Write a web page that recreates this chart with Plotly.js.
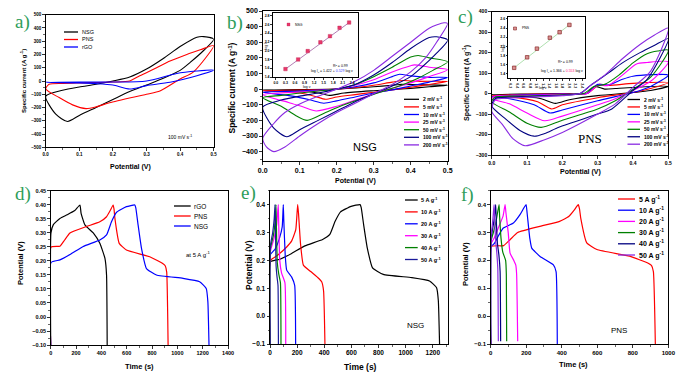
<!DOCTYPE html>
<html><head><meta charset="utf-8">
<script src="https://cdn.plot.ly/plotly-3.0.1.min.js"></script>
<style>html,body{margin:0;padding:0;background:#fff}#plot{width:683px;height:381px}</style>
</head><body><div id="plot"></div>
<script>
// ---------- DATA ----------
// NSG CV loops (potential V, current A/g), panel b
const nsg2V = [0,0.1,0.2,0.3,0.35,0.37,0.42,0.5, 0.45,0.4,0.3,0.22,0.18,0.15,0.1,0];
const nsg2I = [-5,-3,0,15,25,30,28,25, 15,5,-10,-25,-40,-25,-12,-5];
const nsg5V = [0,0.1,0.2,0.25,0.3,0.35,0.38,0.42,0.5, 0.45,0.4,0.35,0.3,0.25,0.2,0.17,0.14,0.1,0];
const nsg5I = [-10,-6,0,10,25,45,55,50,50, 30,12,-5,-20,-35,-50,-65,-45,-25,-10];
const nsg10V = [0,0.1,0.2,0.25,0.3,0.35,0.37,0.4,0.45,0.5, 0.45,0.4,0.35,0.3,0.25,0.2,0.165,0.13,0.08,0];
const nsg10I = [-20,-12,0,15,40,80,95,85,75,75, 45,20,-5,-25,-50,-75,-90,-70,-45,-20];
const nsg25V = [0,0.05,0.1,0.15,0.2,0.25,0.3,0.35,0.4,0.41,0.45,0.5, 0.45,0.4,0.35,0.3,0.25,0.2,0.145,0.11,0.07,0.03,0];
const nsg25I = [-35,-25,-18,-10,0,25,60,110,150,155,140,125, 80,40,5,-30,-70,-110,-140,-115,-85,-60,-35];
const nsg50V = [0,0.05,0.1,0.15,0.2,0.25,0.3,0.35,0.4,0.42,0.45,0.5, 0.46,0.42,0.38,0.33,0.28,0.22,0.17,0.12,0.09,0.05,0];
const nsg50I = [-55,-40,-25,-12,0,30,80,140,205,215,200,175, 120,70,30,-10,-50,-100,-150,-200,-170,-110,-55];
const nsg100V = [0,0.05,0.1,0.15,0.2,0.25,0.3,0.35,0.4,0.45,0.47,0.5, 0.47,0.43,0.4,0.35,0.3,0.25,0.2,0.15,0.1,0.065,0.03,0];
const nsg100I = [-115,-70,-45,-25,0,30,90,170,260,330,335,315, 230,140,80,20,-30,-80,-140,-200,-260,-305,-250,-115];
const nsg200V = [0,0.03,0.06,0.1,0.15,0.2,0.25,0.3,0.35,0.4,0.45,0.49,0.5, 0.47,0.44,0.4,0.35,0.3,0.25,0.2,0.15,0.1,0.06,0.03,0.01,0];
const nsg200I = [-315,-220,-150,-95,-45,0,50,120,210,300,390,425,420, 300,200,110,30,-30,-90,-150,-220,-300,-370,-400,-370,-315];

// PNS CV loops, panel c
const pns2V = [0,0.1,0.2,0.27,0.29,0.32,0.35,0.4,0.5, 0.45,0.4,0.3,0.22,0.18,0.14,0.05,0];
const pns2I = [-5,-2,0,2,35,22,25,30,36, 15,5,-10,-30,-48,-25,-8,-5];
const pns5V = [0,0.1,0.2,0.27,0.305,0.33,0.4,0.5, 0.45,0.4,0.3,0.2,0.17,0.13,0.05,0];
const pns5I = [-10,-4,-1,0,45,40,50,54, 25,5,-20,-55,-75,-40,-15,-10];
const pns10V = [0,0.1,0.2,0.27,0.3,0.33,0.37,0.4,0.5, 0.45,0.4,0.35,0.3,0.2,0.165,0.12,0.05,0];
const pns10I = [-15,-6,-2,0,45,42,70,85,90, 35,5,-15,-35,-80,-95,-55,-25,-15];
const pns25V = [0,0.01,0.1,0.2,0.27,0.3,0.33,0.37,0.41,0.44,0.5, 0.45,0.4,0.35,0.3,0.2,0.15,0.1,0.05,0];
const pns25I = [-25,-12,-8,-4,0,40,40,90,145,152,155, 60,15,-25,-55,-110,-133,-95,-50,-25];
const pns50V = [0,0.01,0.1,0.2,0.26,0.29,0.32,0.36,0.4,0.44,0.47,0.5, 0.45,0.4,0.35,0.3,0.2,0.14,0.1,0.05,0];
const pns50I = [-40,-18,-12,-6,0,35,45,90,150,195,208,212, 80,20,-35,-75,-130,-165,-145,-90,-40];
const pns100V = [0,0.01,0.05,0.1,0.2,0.25,0.28,0.33,0.37,0.42,0.46,0.5, 0.44,0.4,0.34,0.3,0.19,0.15,0.12,0.08,0.04,0];
const pns100I = [-60,-25,-18,-14,-8,0,40,100,150,200,235,268, 69,15,-75,-100,-164,-195,-208,-180,-125,-60];
const pns200V = [0,0.01,0.05,0.1,0.2,0.25,0.28,0.32,0.37,0.42,0.46,0.5, 0.45,0.4,0.35,0.3,0.2,0.15,0.095,0.06,0.03,0];
const pns200I = [-87,-30,-22,-18,-10,0,40,90,170,240,285,320, 110,30,-50,-100,-190,-225,-255,-220,-150,-87];

// rGO CV loop at 100 mV/s, panel a
const rgoCvV = [0,0.1,0.2,0.3,0.39,0.45,0.5, 0.45,0.37,0.3,0.25,0.2,0.15,0.1,0];
const rgoCvI = [-10,-8,-8,0,57,75,82, 40,-10,-35,-60,-30,-20,-15,-10];

// Insets: log v vs log Ip
const nsgLogV = [0.301,0.699,1.0,1.398,1.699,2.0,2.301];
const nsgLogI = [1.58,1.80,1.99,2.19,2.33,2.52,2.64];
const nsgFitX = [0.301,2.301];
const nsgFitY = [1.581,2.639];
const pnsLogV = [0.301,0.699,1.0,1.398,1.699,2.0];
const pnsLogI = [1.53,1.76,1.95,2.19,2.31,2.47];
const pnsFitX = [0.301,2.0];
const pnsFitY = [1.532,2.472];

// GCD at 5 A/g (time s, potential V), panel d
const rgoT = [0,2,21,73,130,190,231, 240,270,336,388,428,441,446];
const rgoP = [-0.1,0.30,0.33,0.352,0.365,0.38,0.40, 0.37,0.329,0.30,0.263,0.21,0.15,-0.1];
const pnsT = [0,3,73,110,152,283,388,441,470,493, 500,507,541,598,782,887,905,916,927];
const pnsP = [-0.1,0.25,0.253,0.275,0.30,0.323,0.34,0.358,0.38,0.40, 0.385,0.352,0.263,0.239,0.215,0.19,0.182,0.16,-0.1];
const nsgT = [0,3,73,160,257,388,441,480,520,598,664, 672,690,717,756,835,1045,1176,1228,1241,1250];
const nsgP = [-0.1,0.195,0.204,0.225,0.252,0.275,0.293,0.34,0.374,0.394,0.40, 0.39,0.329,0.245,0.173,0.15,0.138,0.126,0.102,0.055,-0.1];

// NSG GCD at other current densities, panel e
const nsg10T = [0,3,60,123,160,190,204, 210,225,246,300,360,381,395,405];
const nsg10P = [-0.1,0.20,0.22,0.248,0.27,0.31,0.40, 0.37,0.26,0.183,0.16,0.135,0.123,0.09,-0.1];
const nsg20T = [0,2,37,70,90,98, 102,112,123,160,182,189];
const nsg20P = [-0.1,0.22,0.24,0.28,0.32,0.40, 0.34,0.22,0.165,0.14,0.11,-0.1];
const nsg30T = [0,2,30,50,61, 64,72,85,110,116];
const nsg30P = [-0.1,0.23,0.28,0.33,0.40, 0.34,0.20,0.155,0.12,-0.1];
const nsg40T = [0,2,25,38,44, 47,54,65,77,81];
const nsg40P = [-0.1,0.24,0.29,0.34,0.40, 0.33,0.19,0.15,0.12,-0.1];
const nsg50T = [0,2,20,31,37, 40,45,52,59,62];
const nsg50P = [-0.1,0.25,0.30,0.35,0.40, 0.32,0.18,0.14,0.11,-0.1];

// PNS GCD at other current densities, panel f
const pns10T = [0,2,20,45,71,128,165,199, 205,220,231,278,353,368,375];
const pns10P = [-0.1,0.25,0.26,0.29,0.316,0.334,0.364,0.40, 0.37,0.28,0.244,0.214,0.184,0.16,-0.1];
const pns20T = [0,2,20,45,70,81, 86,99,109,130,141,146,152];
const pns20P = [-0.1,0.26,0.28,0.32,0.36,0.40, 0.37,0.298,0.226,0.2,0.184,0.15,-0.09];
const pns30T = [0,2,15,30,47, 50,58,68,84,88,90];
const pns30P = [-0.1,0.27,0.30,0.34,0.40, 0.36,0.28,0.23,0.2,0.15,-0.09];
const pns40T = [0,2,10,20,28, 31,38,46,53,56];
const pns40P = [-0.1,0.28,0.31,0.35,0.40, 0.35,0.26,0.22,0.16,-0.09];
const pns50T = [0,2,8,14,19, 22,28,34,40,43];
const pns50P = [-0.1,0.29,0.32,0.36,0.40, 0.35,0.27,0.23,0.17,-0.09];

const cvRateLabels = ['2 mV s<sup>-1</sup>','5 mV s<sup>-1</sup>','10 mV s<sup>-1</sup>','25 mV s<sup>-1</sup>','50 mV s<sup>-1</sup>','100 mV s<sup>-1</sup>','200 mV s<sup>-1</sup>'];
const gcdLabels = ['5 A g<sup>-1</sup>','10 A g<sup>-1</sup>','20 A g<sup>-1</sup>','30 A g<sup>-1</sup>','40 A g<sup>-1</sup>','50 A g<sup>-1</sup>'];

// ---------- STYLE ----------
const W=683, H=381;
const px = x => x/W, py = y => 1 - y/H;
const SANS = 'Liberation Sans, Arial, sans-serif';
const SERIF = 'Liberation Serif, Times New Roman, serif';
const GREEN_LBL = '#2e9d5a';
const cvCols = ['#000000','#ff0000','#0000ff','#ff00ff','#008000','#000080','#8a2be2'];
const eCols = ['#000000','#ff0000','#0000ff','#ff00ff','#008000','#1a1a9a'];
const fCols = ['#ff0000','#0000ff','#ff00ff','#008000','#000080','#8a2be2'];

function ax(d0,d1,isX,range,dtick,fmt,fs,anchor,minorD,extra){
  const o = {
    domain: isX ? [px(d0),px(d1)] : [py(d1),py(d0)],
    range: range, anchor: anchor, tickmode:'linear', tick0:0, dtick:dtick, tickformat:fmt,
    ticks:'outside', ticklen:2.5, tickwidth:0.8, tickcolor:'#000',
    showline:true, mirror:true, linewidth:1, linecolor:'#000',
    showgrid:false, zeroline:false, automargin:false, fixedrange:true,
    tickfont:{family:SANS, size:fs, weight:'bold', color:'#000'}
  };
  if (minorD) o.minor = {ticks:'outside', ticklen:1.5, tickwidth:0.6, tickcolor:'#000', dtick:minorD, tick0:0};
  return Object.assign(o, extra||{});
}

const layout = {
  width:W, height:H, margin:{l:0,r:0,t:0,b:0},
  paper_bgcolor:'#fff', plot_bgcolor:'rgba(0,0,0,0)', showlegend:false,
  xaxis:  ax(45.7,213.7,true,[0,0.5],0.1,'.1f',4.5,'y',0.05),
  yaxis:  ax(14.7,147.3,false,[-500,500],100,'d',4.5,'x',50),
  xaxis2: ax(262.7,447.7,true,[0,0.5],0.1,'.1f',7,'y2',0.05),
  yaxis2: ax(11,161,false,[-460,500],100,'d',7,'x2',50),
  xaxis3: ax(491.7,668.3,true,[0,0.5],0.1,'.1f',5,'y3',0.05),
  yaxis3: ax(11.7,155,false,[-300,400],100,'d',5,'x3',50),
  xaxis4: ax(50.7,228,true,[0,1400],200,'d',5.5,'y4',100),
  yaxis4: ax(190.7,345,false,[-0.1,0.451],0.05,'.2f',5.5,'x4',0.025),
  xaxis5: ax(270,447.7,true,[0,1310],200,'d',6.5,'y5',100),
  yaxis5: ax(190.7,344,false,[-0.1,0.45],0.1,'.1f',6.5,'x5',0.05),
  xaxis6: ax(490.7,668.3,true,[0,1000],200,'d',6,'y6',100),
  yaxis6: ax(190.7,344,false,[-0.1,0.45],0.1,'.1f',6,'x6',0.05),
  xaxis7: ax(272.7,358,true,[-0.1,2.58],0.3,'.1f',3.5,'y7',null,{ticklen:1.5}),
  yaxis7: ax(13.3,77,false,[1.4,2.85],0.2,'.1f',3.5,'x7',null,{ticklen:1.5}),
  xaxis8: ax(508.3,585,true,[0.12,2.48],0.2,'.1f',3.5,'y8',null,{ticklen:1.5}),
  yaxis8: ax(16.7,78.3,false,[1.3,2.65],0.2,'.1f',3.5,'x8',null,{ticklen:1.5}),
  shapes:[], annotations:[]
};

const traces = [];
function line(x,y,col,xa,ya,opts){
  traces.push(Object.assign({type:'scatter', mode:'lines', x:x, y:y, xaxis:xa, yaxis:ya,
    line:{color:col, width:1.1, shape:'linear'}, hoverinfo:'skip'}, opts||{}));
}
function cv(x,y,col,xa,ya){ line(x,y,col,xa,ya,{line:{color:col,width:1.1,shape:'spline',smoothing:0.7}}); }
function gcd(x,y,col,xa,ya){ line(x,y,col,xa,ya,{line:{color:col,width:1.2,shape:'spline',smoothing:0.4}}); }

// panel a
cv(nsg100V,nsg100I,'#000000','x','y');
cv(pns100V,pns100I,'#ff0000','x','y');
cv(rgoCvV,rgoCvI,'#0000ff','x','y');
// panel b
[[nsg2V,nsg2I],[nsg5V,nsg5I],[nsg10V,nsg10I],[nsg25V,nsg25I],[nsg50V,nsg50I],[nsg100V,nsg100I],[nsg200V,nsg200I]]
  .forEach((d,i)=>cv(d[0],d[1],cvCols[i],'x2','y2'));
// panel c
[[pns2V,pns2I],[pns5V,pns5I],[pns10V,pns10I],[pns25V,pns25I],[pns50V,pns50I],[pns100V,pns100I],[pns200V,pns200I]]
  .forEach((d,i)=>cv(d[0],d[1],cvCols[i],'x3','y3'));
// panel d
gcd(rgoT,rgoP,'#000000','x4','y4');
gcd(pnsT,pnsP,'#ff0000','x4','y4');
gcd(nsgT,nsgP,'#0000ff','x4','y4');
// panel e
[[nsgT,nsgP],[nsg10T,nsg10P],[nsg20T,nsg20P],[nsg30T,nsg30P],[nsg40T,nsg40P],[nsg50T,nsg50P]]
  .forEach((d,i)=>gcd(d[0],d[1],eCols[i],'x5','y5'));
// panel f
[[pnsT,pnsP],[pns10T,pns10P],[pns20T,pns20P],[pns30T,pns30P],[pns40T,pns40P],[pns50T,pns50P]]
  .forEach((d,i)=>gcd(d[0],d[1],fCols[i],'x6','y6'));
// insets
line(nsgFitX,nsgFitY,'#a05aa0','x7','y7',{line:{color:'#a05aa0',width:0.8}});
traces.push({type:'scatter',mode:'markers',x:nsgLogV,y:nsgLogI,xaxis:'x7',yaxis:'y7',hoverinfo:'skip',
  marker:{symbol:'square',size:3.5,color:'#e8386a',line:{width:0.4,color:'#c02050'}}});
line(pnsFitX,pnsFitY,'#9ad89a','x8','y8',{line:{color:'#9ad89a',width:0.8}});
traces.push({type:'scatter',mode:'markers',x:pnsLogV,y:pnsLogI,xaxis:'x8',yaxis:'y8',hoverinfo:'skip',
  marker:{symbol:'square',size:3.5,color:'#d89090',line:{width:0.7,color:'#8a2a2a'}}});

// ---------- TEXT / LEGENDS ----------
function txt(x,y,t,fs,opt){
  layout.annotations.push(Object.assign({xref:'paper',yref:'paper',x:px(x),y:py(y),text:t,showarrow:false,
    xanchor:'center',yanchor:'middle',font:{family:SANS,size:fs,color:'#000'}},opt||{}));
}
function bold(x,y,t,fs,opt){ txt(x,y,t,fs,Object.assign({font:{family:SANS,size:fs,color:'#000',weight:'bold'}},opt||{})); }
function legend(labels,cols,x0,x1,xt,y0,dy,fs,isBold){
  labels.forEach((lab,i)=>{
    const y=y0+i*dy;
    layout.shapes.push({type:'line',xref:'paper',yref:'paper',x0:px(x0),x1:px(x1),y0:py(y),y1:py(y),line:{color:cols[i],width:1.3}});
    txt(xt,y,lab,fs,{xanchor:'left',font:{family:SANS,size:fs,color:'#000',weight:isBold?'bold':'normal'}});
  });
}
// panel labels
[['a)',22.5,22],['b)',235,23],['c)',465,17],['d)',23,194],['e)',248,193],['f)',467,195]].forEach(l=>
  txt(l[1],l[2],l[0],19,{font:{family:SERIF,size:19,color:GREEN_LBL}}));

// axis titles
bold(23,81,'Specific current (A g<sup>-1</sup>)',6,{textangle:-90});
bold(130,166.5,'Potential (V)',7);
bold(231.5,88,'Specific current (A g<sup>-1</sup>)',8.5,{textangle:-90});
bold(355,180.5,'Potential (V)',7);
bold(466,83,'Specific Current (A g<sup>-1</sup>)',7,{textangle:-90});
bold(580,172.3,'Potential (V)',7);
bold(20,263,'Potential (V)',7.5,{textangle:-90});
bold(139,366.7,'Time (s)',7.5);
bold(249,265,'Potential (V)',8.5,{textangle:-90});
bold(360,366.7,'Time (s)',8.5);
bold(465,264,'Potential (V)',7.5,{textangle:-90});
bold(573,364.3,'Time (s)',7.5);

// legends
legend(['NSG','PNS','rGO'],['#000','#ff0000','#0000ff'],64,78,80,32,7.5,5.5,false);
legend(cvRateLabels,cvCols,404,419,421,99.3,7.6,5,true);
legend(cvRateLabels,cvCols,627.5,640,641.5,99.5,7.45,5,true);
legend(['rGO','PNS','NSG'],['#000','#ff0000','#0000ff'],174,190.7,192.3,206,10,6.5,false);
legend(gcdLabels,eCols,405,417.7,419.3,200,11.9,5.5,true);
legend(gcdLabels,fCols,618,635,636.7,199,11.2,7,true);

// in-plot notes
txt(180,136.7,'100 mV s<sup>-1</sup>',5);
txt(365,147,'NSG',11);
txt(590,138.5,'PNS',13,{font:{family:SERIF,size:13,color:'#000'}});
txt(198,254,'at 5 A g<sup>-1</sup>',6);
txt(415,325.7,'NSG',8);
txt(619,330.7,'PNS',8);

// inset texts
layout.shapes.push({type:'rect',xref:'paper',yref:'paper',x0:px(287),x1:px(290),y0:py(26),y1:py(23),fillcolor:'#e8386a',line:{width:0.3,color:'#c02050'}});
txt(293,24.5,'NSG',3.5,{xanchor:'left'});
txt(340,66,'R<sup>2</sup> = 0.99',3.5);
txt(332,71.3,'log I<sub>p</sub> = 1.422 + <span style="color:#4040ff">0.529</span> log v',3.5);
txt(307,87.5,'log v',3.5);
txt(265.5,45,'log I<sub>p</sub>',3.5,{textangle:-90});
layout.shapes.push({type:'rect',xref:'paper',yref:'paper',x0:px(513.5),x1:px(516.5),y0:py(30),y1:py(27),fillcolor:'#d89090',line:{width:0.6,color:'#8a2a2a'}});
txt(520,28.5,'PNS',3.5,{xanchor:'left'});
txt(565,62.3,'R<sup>2</sup> = 0.99',3.5);
txt(561.7,71.7,'log I<sub>p</sub> = 1.366 + <span style="color:#ff2080">0.553</span> log v',3.5);
txt(543,88,'log v',3.5);
txt(502.5,47,'log I<sub>p</sub>',3.5,{textangle:-90});

Plotly.newPlot('plot', traces, layout, {staticPlot:true, displayModeBar:false});
</script>
</body></html>
